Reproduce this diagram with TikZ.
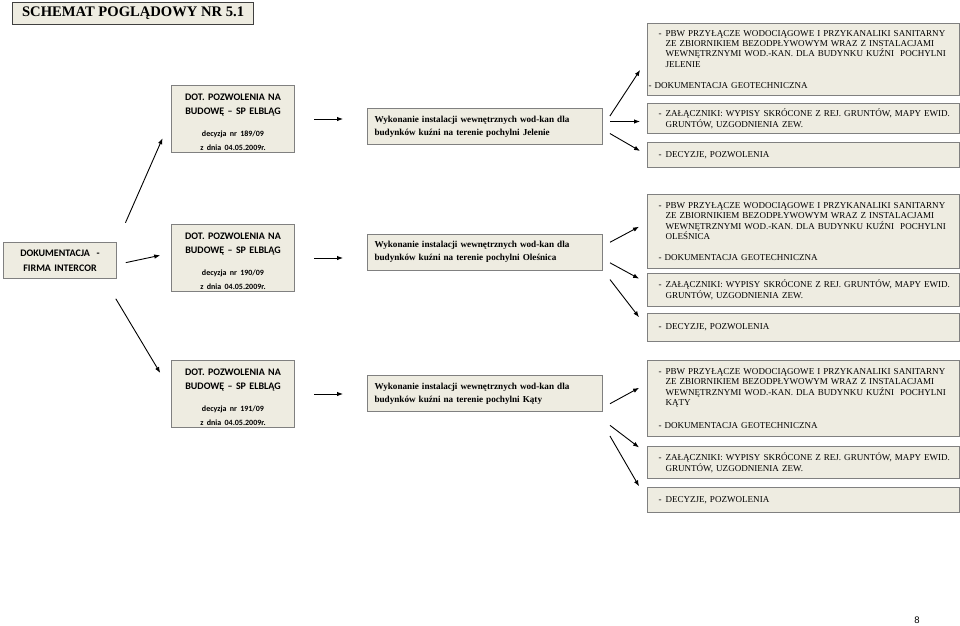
\documentclass[tikz,border=0pt]{standalone}
\usepackage{fontspec}
\setmainfont{Liberation Serif}
\newfontfamily\calibri{Carlito}
\newfontfamily\arial{Liberation Sans}
\usetikzlibrary{arrows.meta,positioning}
\definecolor{boxfill}{HTML}{EEECE1}
\definecolor{boxline}{HTML}{808080}
\definecolor{titleline}{HTML}{404040}
\newcommand{\dsh}{\hspace*{11pt}\makebox[7pt][l]{-}}
\newcommand{\ind}{\hspace*{18pt}}
\newcommand{\dec}{\fontsize{8}{11.7}\selectfont}

\begin{document}
\begin{tikzpicture}[x=1pt,y=-1pt,
	box/.style={draw=boxline,fill=boxfill,line width=1pt,anchor=north west,inner sep=0pt},
	dotbox/.style={box,text width=123pt,minimum height=67pt,align=center,font=\calibri\bfseries\fontsize{10}{14}\selectfont},
	wbox/.style={box,text width=221pt,inner xsep=7pt,minimum height=36pt,align=left,font=\bfseries\fontsize{9.15}{13}\selectfont},
	rbox/.style={box,text width=312pt,align=left,font=\fontsize{9.05}{10.3}\selectfont},
	arr/.style={-{Latex[length=6pt,width=4.5pt]},line width=0.9pt}]
\useasboundingbox (0,0) rectangle (960,625);
\node [box,draw=titleline,line width=1.2pt,minimum width=241pt,minimum height=22pt,font=\bfseries\fontsize{14.6}{16}\selectfont] (t) at (12,2) {SCHEMAT POGLĄDOWY NR 5.1};
\node [box,text width=113pt,minimum height=36pt,align=center,font=\calibri\bfseries\fontsize{10}{14.5}\selectfont] (dok) at (3,242) {DOKUMENTACJA~ -\\FIRMA INTERCOR};

\node [dotbox] (d1) at (171,85) {\rule{0pt}{13.5pt}DOT. POZWOLENIA NA\\BUDOWĘ – SP ELBLĄG\par\vspace{10pt}\dec decyzja nr 189/09\\z dnia 04.05.2009r.};
\node [dotbox] (d2) at (171,224) {\rule{0pt}{13.5pt}DOT. POZWOLENIA NA\\BUDOWĘ – SP ELBLĄG\par\vspace{10pt}\dec decyzja nr 190/09\\z dnia 04.05.2009r.};
\node [dotbox] (d3) at (171,360) {\rule{0pt}{13.5pt}DOT. POZWOLENIA NA\\BUDOWĘ – SP ELBLĄG\par\vspace{10pt}\dec decyzja nr 191/09\\z dnia 04.05.2009r.};

\node [wbox] (w1) at (367,108) {Wykonanie instalacji wewnętrznych wod-kan dla\\budynków kuźni na terenie pochylni Jelenie};
\node [wbox] (w2) at (367,233.5) {Wykonanie instalacji wewnętrznych wod-kan dla\\budynków kuźni na terenie pochylni Oleśnica};
\node [wbox] (w3) at (367,375) {Wykonanie instalacji wewnętrznych wod-kan dla\\budynków kuźni na terenie pochylni Kąty};

\node [rbox,minimum height=72pt] (r1a) at (647,23) {\dsh PBW PRZYŁĄCZE WODOCIĄGOWE I PRZYKANALIKI SANITARNY\\\ind ZE ZBIORNIKIEM BEZODPŁYWOWYM WRAZ Z INSTALACJAMI\\\ind WEWNĘTRZNYMI WOD.-KAN. DLA BUDYNKU KUŹNI~ POCHYLNI\\\ind JELENIE\\[11.5pt]\hspace*{1pt}- DOKUMENTACJA GEOTECHNICZNA};
\node [rbox,minimum height=30pt] (r1b) at (647,103) {\dsh ZAŁĄCZNIKI: WYPISY SKRÓCONE Z REJ. GRUNTÓW, MAPY EWID.\\[0.8pt]\ind GRUNTÓW, UZGODNIENIA ZEW.};
\node [rbox,minimum height=25pt] (r1c) at (647,142) {\dsh DECYZJE, POZWOLENIA};

\node [rbox,minimum height=74pt] (r2a) at (647,194) {\dsh PBW PRZYŁĄCZE WODOCIĄGOWE I PRZYKANALIKI SANITARNY\\\ind ZE ZBIORNIKIEM BEZODPŁYWOWYM WRAZ Z INSTALACJAMI\\\ind WEWNĘTRZNYMI WOD.-KAN. DLA BUDYNKU KUŹNI~ POCHYLNI\\\ind OLEŚNICA\\[10.5pt]\hspace*{11pt}- DOKUMENTACJA GEOTECHNICZNA};
\node [rbox,minimum height=33pt] (r2b) at (647,273) {\dsh ZAŁĄCZNIKI: WYPISY SKRÓCONE Z REJ. GRUNTÓW, MAPY EWID.\\[0.8pt]\ind GRUNTÓW, UZGODNIENIA ZEW.};
\node [rbox,minimum height=28pt] (r2c) at (647,313) {\dsh DECYZJE, POZWOLENIA};

\node [rbox,minimum height=76pt] (r3a) at (647,360) {\dsh PBW PRZYŁĄCZE WODOCIĄGOWE I PRZYKANALIKI SANITARNY\\\ind ZE ZBIORNIKIEM BEZODPŁYWOWYM WRAZ Z INSTALACJAMI\\\ind WEWNĘTRZNYMI WOD.-KAN. DLA BUDYNKU KUŹNI~ POCHYLNI\\\ind KĄTY\\[12.5pt]\hspace*{11pt}- DOKUMENTACJA GEOTECHNICZNA\par\vspace{4pt}};
\node [rbox,minimum height=32pt] (r3b) at (647,446) {\dsh ZAŁĄCZNIKI: WYPISY SKRÓCONE Z REJ. GRUNTÓW, MAPY EWID.\\[0.8pt]\ind GRUNTÓW, UZGODNIENIA ZEW.};
\node [rbox,minimum height=25pt] (r3c) at (647,487) {\dsh DECYZJE, POZWOLENIA};

\node [font=\arial\fontsize{9.5}{11}\selectfont] (pg) at (917,620) {8};

\draw [arr,shorten <=21pt,shorten >=21pt] (dok.north east) -- (d1.west);
\draw [arr,shorten <=9pt,shorten >=11pt] ([yshift=-4pt]dok.east) -- ([yshift=5pt]d2.west);
\draw [arr,shorten <=23pt,shorten >=21pt] ([xshift=-13pt]dok.south east) -- ([yshift=3pt]d3.west);

\draw [arr,shorten <=19pt,shorten >=24pt] (d1.east) -- (d1.east -| w1.west);
\draw [arr,shorten <=19pt,shorten >=24pt] (d2.east) -- (d2.east -| w2.west);
\draw [arr,shorten <=19pt,shorten >=24pt] (d3.east) -- (d3.east -| w3.west);

\draw [arr,shorten <=12.5pt,shorten >=12.5pt] (w1.east) -- (r1a.west);
\draw [arr,shorten <=7pt,shorten >=7pt] ([yshift=5pt]w1.east) -- ([yshift=5pt]w1.east -| r1b.west);
\draw [arr,shorten <=8pt,shorten >=8pt] ([yshift=-3pt]w1.east) -- (r1c.west);

\draw [arr,shorten <=8pt,shorten >=9pt] ([yshift=6pt]w2.east) -- ([yshift=9pt]r2a.west);
\draw [arr,shorten <=8pt,shorten >=9pt] ([yshift=-7pt]w2.east) -- ([yshift=7pt]r2b.west);
\draw [arr,shorten <=11.4pt,shorten >=13pt] (w2.south east) -- (r2c.west);

\draw [arr,shorten <=8pt,shorten >=9pt] ([yshift=-14pt]w3.east) -- ([yshift=15pt]r3a.west);
\draw [arr,shorten <=8.8pt,shorten >=10pt] ([yshift=-8pt]w3.south east) -- ([yshift=9pt]r3b.west);
\draw [arr,shorten <=13.8pt,shorten >=15.8pt] ([yshift=-12pt]w3.south east) -- (r3c.west);
\end{tikzpicture}
\end{document}
